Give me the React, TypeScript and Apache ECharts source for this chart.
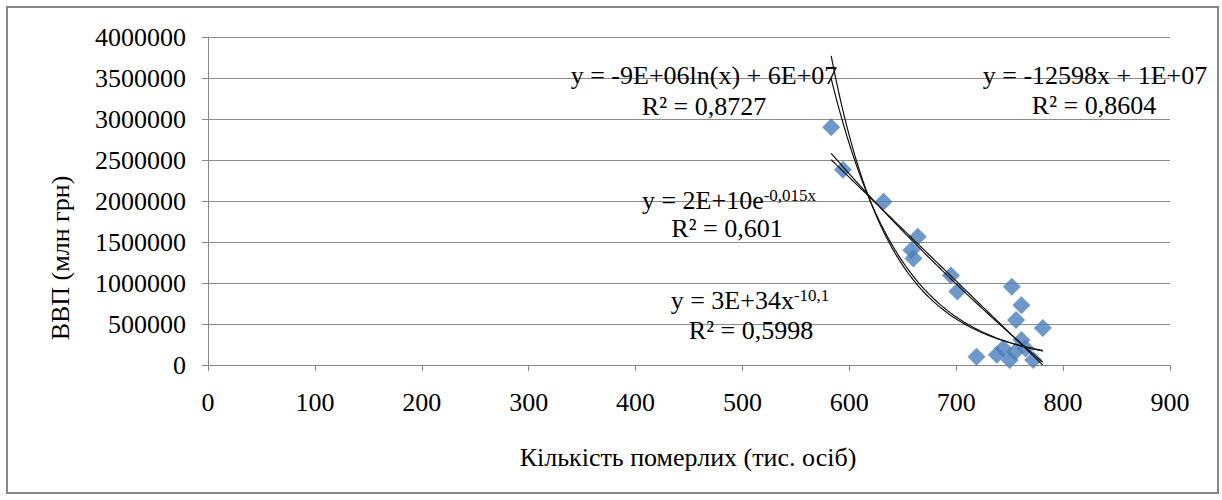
import React, { useEffect, useRef } from "react";
import * as echarts from "echarts";

// Кількість померлих (тис. осіб)
const deaths = [583, 594, 632, 664, 658, 660, 695, 701, 752, 761, 756, 781, 761, 719, 738, 744, 750, 755, 765, 772];
// ВВП (млн грн)
const gdp = [2900000, 2380000, 1990000, 1565000, 1400000, 1300000, 1090000, 895000, 955000, 730000, 550000, 450000, 305000, 100000, 125000, 200000, 60000, 160000, 200000, 60000];

const xTicks = { min: 0, max: 900, interval: 100 };
const yTicks = { min: 0, max: 4000000, interval: 500000 };

const FONT = "Liberation Serif";

function fit(xs: number[], ys: number[]) {
  const n = xs.length;
  let sx = 0, sy = 0, sxx = 0, sxy = 0;
  for (let i = 0; i < n; i++) {
    sx += xs[i]; sy += ys[i]; sxx += xs[i] * xs[i]; sxy += xs[i] * ys[i];
  }
  const k = (n * sxy - sx * sy) / (n * sxx - sx * sx);
  const b = (sy - k * sx) / n;
  return { k, b };
}

function trendLines() {
  const lnX = deaths.map((v) => Math.log(v));
  const lnY = gdp.map((v) => Math.log(v));
  const lin = fit(deaths, gdp);
  const lg = fit(lnX, gdp);
  const ex = fit(deaths, lnY);
  const pw = fit(lnX, lnY);
  const minX = Math.min(...deaths);
  const maxX = Math.max(...deaths);
  const steps = 80;
  const xs: number[] = [];
  for (let i = 0; i <= steps; i++) xs.push(minX + ((maxX - minX) * i) / steps);
  return {
    linear: xs.map((x) => [x, lin.k * x + lin.b]),
    log: xs.map((x) => [x, lg.k * Math.log(x) + lg.b]),
    exp: xs.map((x) => [x, Math.exp(ex.b + ex.k * x)]),
    power: xs.map((x) => [x, Math.exp(pw.b + pw.k * Math.log(x))]),
  };
}

export default function App() {
  const ref = useRef<HTMLDivElement>(null);
  useEffect(() => {
    if (!ref.current) return;
    const chart = echarts.init(ref.current, null, { renderer: "svg" });
    const t = trendLines();
    const lineStyle = { color: "#111", width: 1.2 };
    const trend = (name: string, data: number[][]) => ({
      name,
      type: "line",
      data,
      showSymbol: false,
      symbol: "none",
      smooth: false,
      lineStyle,
      z: 3,
      silent: true,
    });
    const eq = (x: number, y: number, text: string) => ({
      type: "text",
      x,
      y,
      z: 10,
      style: {
        text,
        x: 0,
        y: 0,
        align: "center",
        verticalAlign: "middle",
        fill: "#000",
        fontSize: 26,
        fontFamily: FONT,
      },
    });
    const eqSup = (x: number, y: number, base: string, sup: string) => ({
      type: "text",
      x,
      y,
      z: 10,
      style: {
        text: `{a|${base}}{b|${sup}}`,
        x: 0,
        y: 0,
        align: "center",
        verticalAlign: "middle",
        fill: "#000",
        fontSize: 26,
        fontFamily: FONT,
        rich: {
          a: { fontSize: 26, fontFamily: FONT, fill: "#000" },
          b: { fontSize: 17, fontFamily: FONT, fill: "#000", verticalAlign: "top" },
        },
      },
    });
    const labelFmt = (v: number) => String(v);
    chart.setOption({
      animation: false,
      backgroundColor: "#fff",
      grid: { left: 208, right: 52, top: 37, bottom: 135, containLabel: false },
      xAxis: {
        type: "value",
        min: xTicks.min,
        max: xTicks.max,
        interval: xTicks.interval,
        axisLine: { show: true, lineStyle: { color: "#888", width: 1 } },
        axisTick: { show: true, length: 6, lineStyle: { color: "#888" } },
        splitLine: { show: false },
        axisLabel: { color: "#000", fontSize: 26, fontFamily: FONT, margin: 24, formatter: labelFmt },
      },
      yAxis: {
        type: "value",
        min: yTicks.min,
        max: yTicks.max,
        interval: yTicks.interval,
        axisLine: { show: true, lineStyle: { color: "#888", width: 1 } },
        axisTick: { show: true, length: 6, lineStyle: { color: "#888" } },
        splitLine: { show: true, lineStyle: { color: "#8c8c8c", width: 1 } },
        axisLabel: { color: "#000", fontSize: 26, fontFamily: FONT, margin: 22, formatter: labelFmt },
      },
      series: [
        {
          name: "ВВП",
          type: "scatter",
          data: deaths.map((d, i) => [d, gdp[i]]),
          symbol: "diamond",
          symbolSize: 18,
          itemStyle: { color: "#4a7ebb" },
          z: 2,
        },
        trend("linear", t.linear),
        trend("log", t.log),
        trend("exp", t.exp),
        trend("power", t.power),
      ],
      graphic: [
        {
          type: "rect",
          shape: { x: 7, y: 7, width: 1211, height: 486 },
          style: { fill: "none", stroke: "#868686", lineWidth: 2 },
          z: 0,
          silent: true,
        },
        {
          type: "text",
          x: 60,
          y: 258,
          rotation: Math.PI / 2,
          z: 10,
          style: {
            text: "ВВП (млн грн)",
            align: "center",
            verticalAlign: "middle",
            fill: "#000",
            fontSize: 26,
            fontFamily: FONT,
          },
        },
        eq(688, 457, "Кількість померлих (тис. осіб)"),
        eq(704, 75, "y = -9E+06ln(x) + 6E+07"),
        eq(704, 106, "R² = 0,8727"),
        eq(1095, 75, "y = -12598x + 1E+07"),
        eq(1094, 105, "R² = 0,8604"),
        eqSup(729, 200, "y = 2E+10e", "-0,015x"),
        eq(727, 228, "R² = 0,601"),
        eqSup(750, 300, "y = 3E+34x", "-10,1"),
        eq(751, 330, "R² = 0,5998"),
      ],
    });
    return () => chart.dispose();
  }, []);
  return (
    <div
      ref={ref}
      style={{ position: "fixed", left: 0, top: 0, width: 1222, height: 500 }}
    />
  );
}
